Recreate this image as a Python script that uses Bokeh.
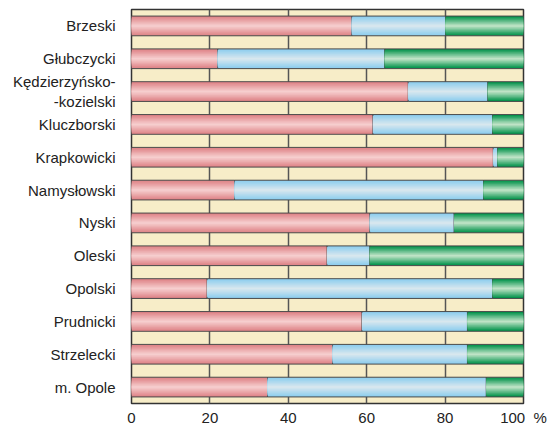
from bokeh.plotting import figure
from bokeh.models import ColumnDataSource, FactorRange, Range1d
from bokeh.embed import file_html
from bokeh.resources import INLINE

districts = ["Brzeski", "Głubczycki", "Kędzierzyńsko-\n-kozielski", "Kluczborski",
             "Krapkowicki", "Namysłowski", "Nyski", "Oleski", "Opolski",
             "Prudnicki", "Strzelecki", "m. Opole"]
part_red = [56.2, 22.0, 70.6, 61.6, 92.3, 26.3, 60.8, 49.9, 19.3, 58.8, 51.3, 34.7]
part_blue = [23.9, 42.6, 20.3, 30.5, 1.1, 63.5, 21.5, 10.9, 72.8, 26.9, 34.4, 55.8]
part_green = [100 - r - b for r, b in zip(part_red, part_blue)]
x_ticks = [0, 20, 40, 60, 80, 100]

red_end = part_red
blue_end = [r + b for r, b in zip(part_red, part_blue)]
src = ColumnDataSource(dict(y=districts, r0=[0] * len(districts), r1=red_end,
                            b0=red_end, b1=blue_end, g0=blue_end, g1=[100] * len(districts)))

p = figure(frame_width=392, frame_height=394, y_range=FactorRange(factors=districts[::-1]),
           x_range=Range1d(0, 100), output_backend="svg", toolbar_location=None,
           min_border_left=131, min_border_right=27, min_border_top=9, min_border_bottom=2)
p.y_range.range_padding = 0
p.background_fill_color = "#f7edc8"
p.border_fill_color = "white"
p.outline_line_color = "#333333"
p.outline_line_width = 1.5

p.ygrid.grid_line_color = None
p.xgrid.grid_line_color = "#555555"
p.xgrid.grid_line_width = 1.5
p.xaxis.ticker = x_ticks
p.xaxis.major_label_overrides = {100: "100\u00a0\u00a0%"}


def lerp(c1, c2, t):
    a = [int(c1[i:i + 2], 16) for i in (1, 3, 5)]
    b = [int(c2[i:i + 2], 16) for i in (1, 3, 5)]
    return "#%02x%02x%02x" % tuple(round(a[k] + (b[k] - a[k]) * t) for k in range(3))


segments = [("r0", "r1", "#de8286", "#f6cece"),
            ("b0", "b1", "#8ccdee", "#d8e7ee"),
            ("g0", "g1", "#00924a", "#bfe3c6")]
N = 9
H = 0.6
for left, right, edge, center in segments:
    for k in range(N):
        t = k / (N - 1)
        h = H * (1 - t * 0.92)
        p.hbar(y="y", left=left, right=right, height=h, source=src,
               fill_color=lerp(edge, center, t),
               line_color="#4a4a4a" if k == 0 else None, line_width=1)

for ax in (p.xaxis, p.yaxis):
    ax.axis_line_color = None
    ax.major_tick_line_color = None
    ax.minor_tick_line_color = None
    ax.major_tick_out = 0
    ax.major_tick_in = 0
    ax.minor_tick_out = 0
    ax.minor_tick_in = 0
    ax.major_label_text_font = "Liberation Sans"
    ax.major_label_text_font_size = "15px"
    ax.major_label_text_color = "#222222"
p.yaxis.major_label_standoff = 16
p.xaxis.major_label_standoff = 5

open("out.html", "w").write(file_html(p, INLINE))
